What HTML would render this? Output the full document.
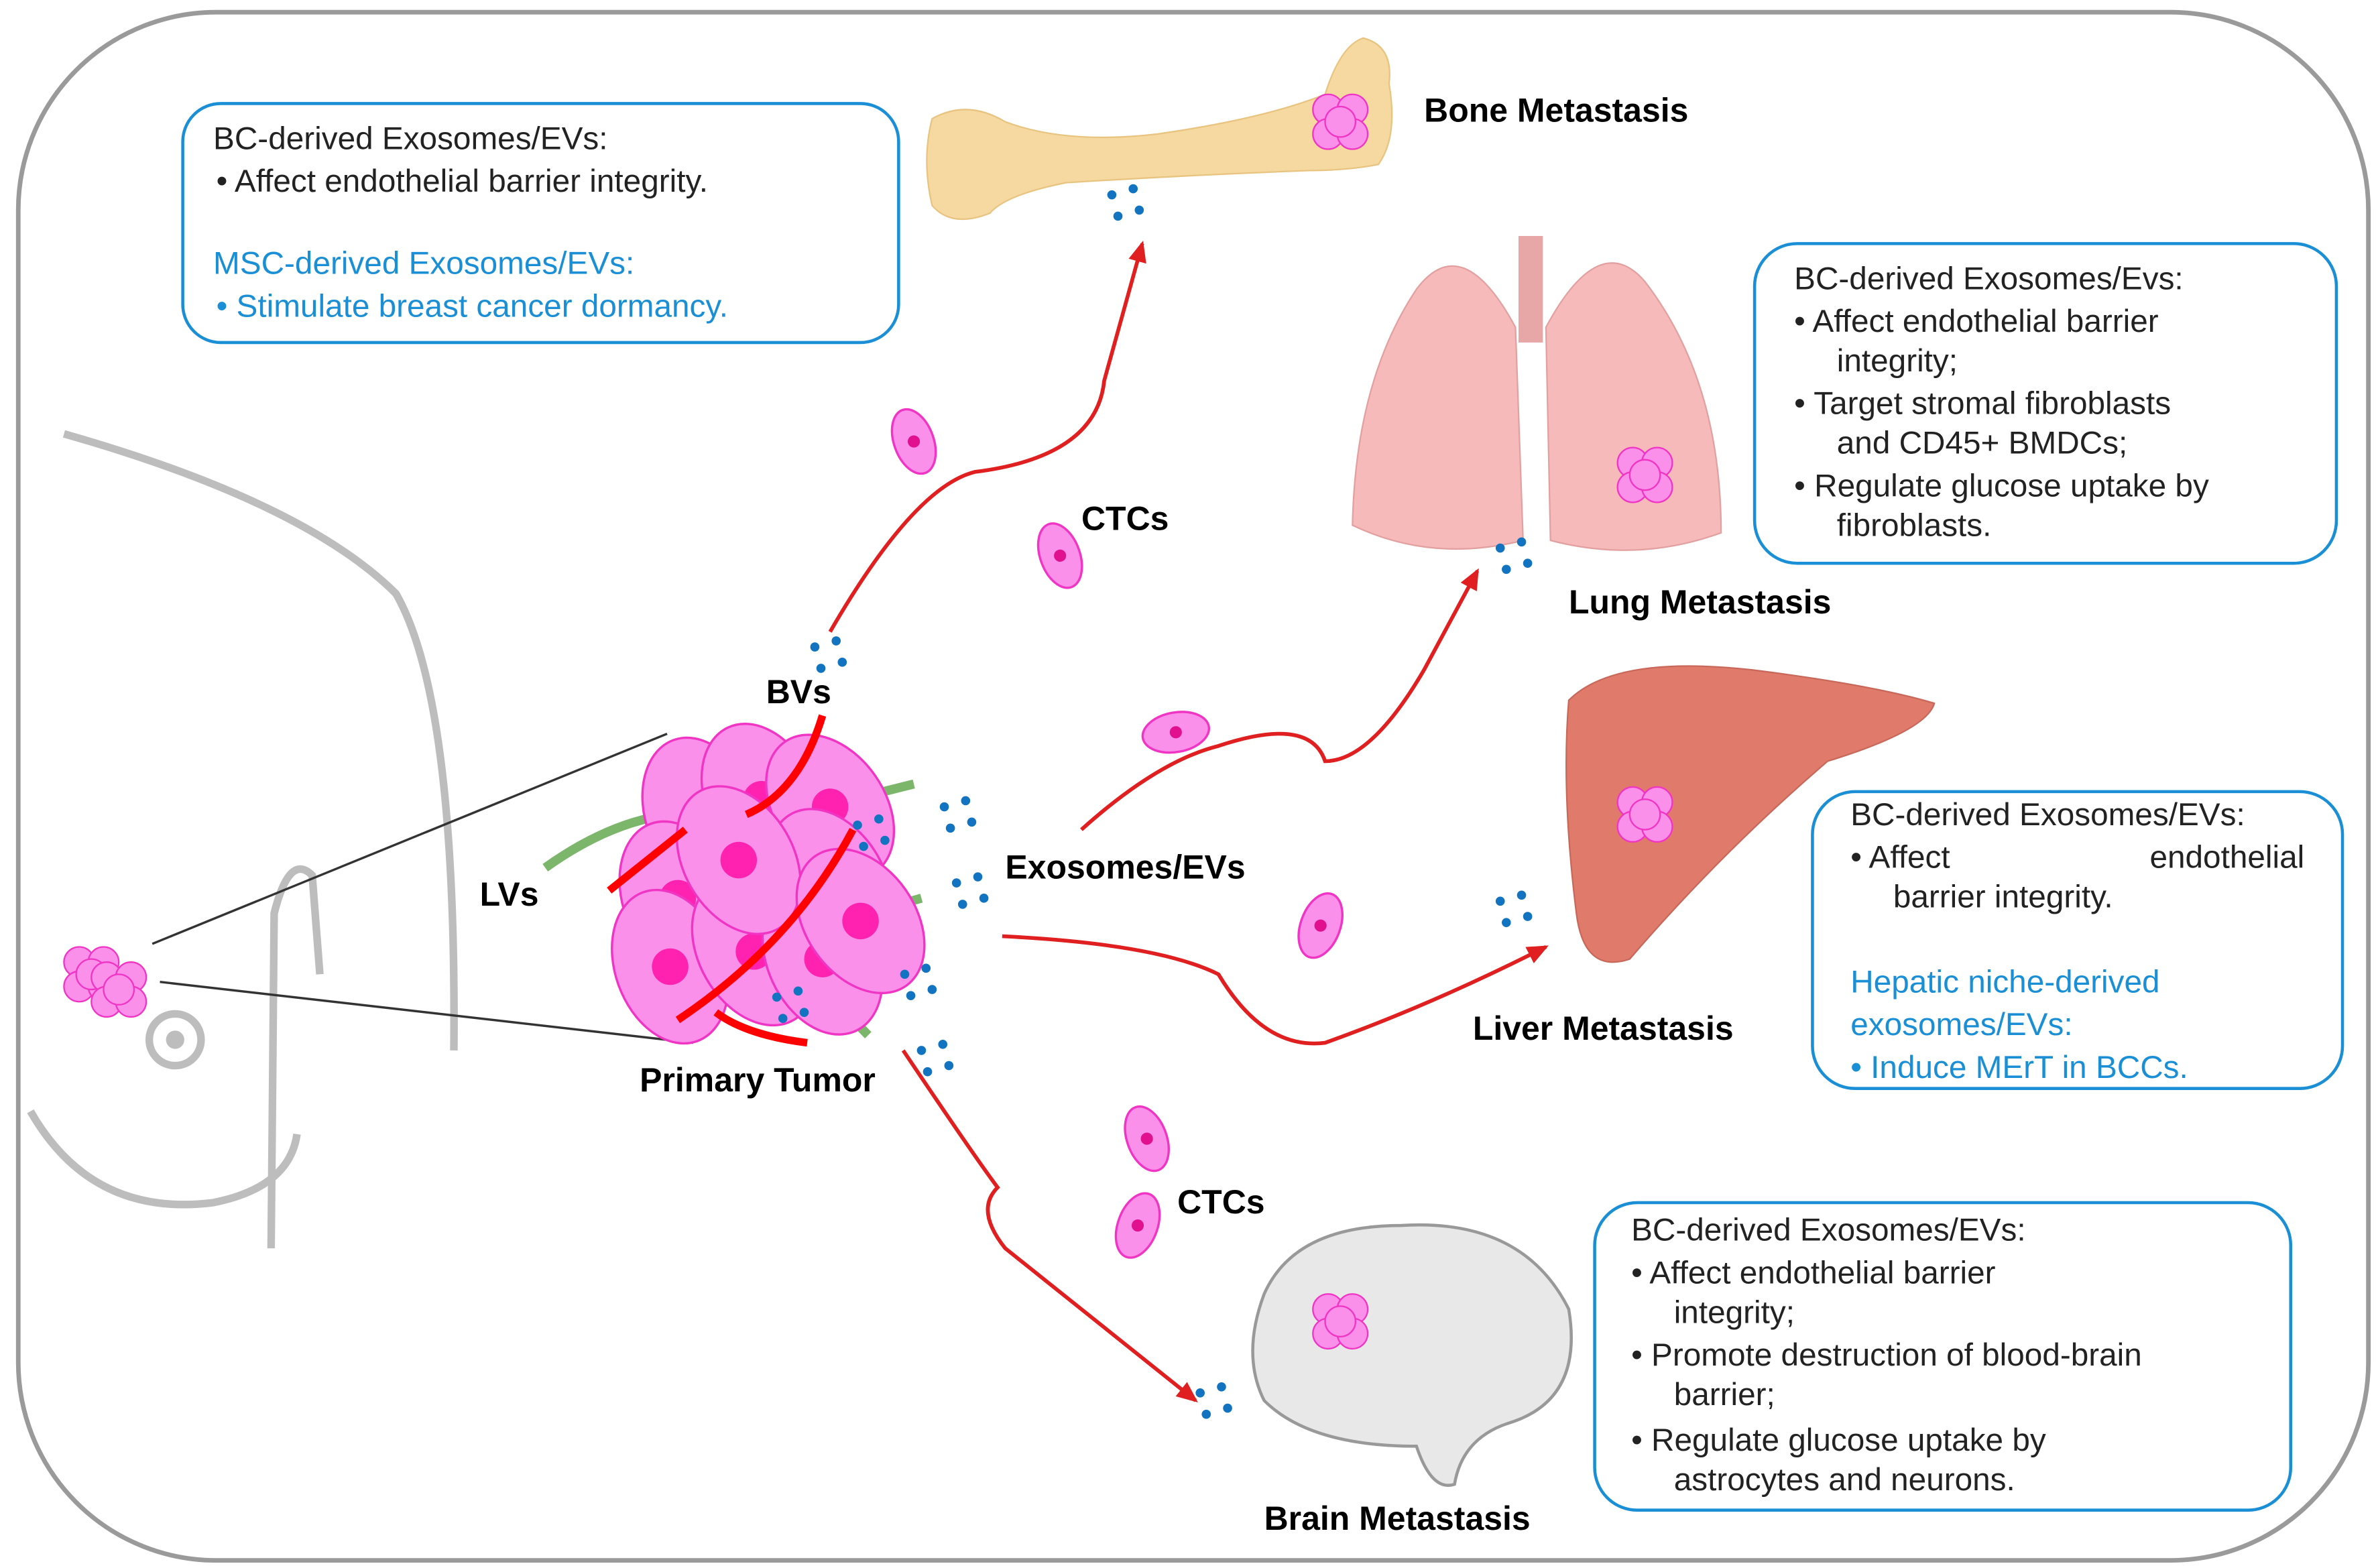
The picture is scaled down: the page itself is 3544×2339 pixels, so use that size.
<!DOCTYPE html>
<html><head><meta charset="utf-8"><style>
html,body{margin:0;padding:0;background:#fff}
svg{display:block}
text{font-family:"Liberation Sans",sans-serif}
.b{font-weight:bold;font-size:22px;fill:#000}
.t{font-size:21px;fill:#222}
.bl{font-size:21px;fill:#1a8fd6}
</style></head><body>
<svg width="3544" height="2339" viewBox="0 0 1560 1030" preserveAspectRatio="none" xmlns="http://www.w3.org/2000/svg">
<defs>
<g id="cell"><ellipse rx="36" ry="52" fill="#fb90ea" stroke="#f035c4" stroke-width="1.5"/><circle r="12" fill="#ff22b0"/></g>
<g id="ctc"><ellipse rx="13" ry="22" fill="#fb90ea" stroke="#f035c4" stroke-width="1.5"/><circle r="4" fill="#e0108f"/></g>
<g id="clu"><circle cx="-8" cy="-8" r="10" fill="#fb90ea" stroke="#f035c4"/><circle cx="8" cy="-8" r="10" fill="#fb90ea" stroke="#f035c4"/><circle cx="-8" cy="8" r="10" fill="#fb90ea" stroke="#f035c4"/><circle cx="8" cy="8" r="10" fill="#fb90ea" stroke="#f035c4"/><circle cx="0" cy="0" r="10" fill="#fb90ea" stroke="#f035c4"/></g>
<g id="dots" fill="#1273c0"><circle cx="0" cy="0" r="3"/><circle cx="14" cy="-4" r="3"/><circle cx="4" cy="14" r="3"/><circle cx="18" cy="10" r="3"/></g>
<marker id="ar" markerUnits="userSpaceOnUse" markerWidth="14" markerHeight="12" refX="12" refY="6" orient="auto"><path d="M0,0 L14,6 L0,12 Z" fill="#e02020"/></marker>
</defs>
<rect x="12" y="8" width="1543" height="1017" rx="130" fill="#fff" stroke="#9a9a9a" stroke-width="3"/>

<g fill="none" stroke="#bdbdbd" stroke-width="5">
<path d="M42,285 Q200,330 260,390 Q300,460 298,690"/>
<path d="M20,730 Q60,800 140,790 Q190,780 195,745"/>
<path d="M178,820 L180,600 Q190,560 205,575 L210,640"/>
<circle cx="115" cy="683" r="17"/>
</g>
<circle cx="115" cy="683" r="6" fill="#bdbdbd"/>
<use href="#clu" x="60" y="640"/><use href="#clu" x="78" y="650"/>
<line x1="100" y1="620" x2="438" y2="482" stroke="#333" stroke-width="1.5"/>
<line x1="105" y1="645" x2="455" y2="685" stroke="#333" stroke-width="1.5"/>

<g stroke="#7cb66b" stroke-width="6" fill="none">
<path d="M358,570 Q400,540 440,535"/><path d="M560,525 L600,515"/><path d="M570,600 L605,590"/><path d="M520,600 Q540,650 570,680"/><path d="M470,500 Q490,520 500,530"/>
</g>
<use href="#cell" transform="translate(460,535) rotate(-20)"/>
<use href="#cell" transform="translate(500,525) rotate(-25)"/>
<use href="#cell" transform="translate(545,530) rotate(-35)"/>
<use href="#cell" transform="translate(445,590) rotate(-20)"/>
<use href="#cell" transform="translate(545,580) rotate(-30)"/>
<use href="#cell" transform="translate(440,635) rotate(-20)"/>
<use href="#cell" transform="translate(495,625) rotate(-30)"/>
<use href="#cell" transform="translate(540,630) rotate(-25)"/>
<use href="#cell" transform="translate(485,565) rotate(-30)"/>
<use href="#cell" transform="translate(565,605) rotate(-35)"/>
<g stroke="#ff0000" stroke-width="5" fill="none">
<path d="M540,470 Q525,520 490,535"/><path d="M400,585 L450,545"/><path d="M445,670 Q520,620 560,545"/><path d="M470,665 Q490,680 530,685"/>
</g>
<use href="#dots" x="563" y="542"/><use href="#dots" x="594" y="640"/><use href="#dots" x="510" y="655"/>
<use href="#dots" x="620" y="530"/><use href="#dots" x="628" y="580"/><use href="#dots" x="605" y="690"/><use href="#dots" x="535" y="425"/>

<g stroke="#e02020" stroke-width="2.5" fill="none" marker-end="url(#ar)">
<path d="M545,415 Q600,320 640,310 Q720,300 725,250 L750,160"/>
<path d="M710,545 Q760,500 800,490 Q860,470 870,500 Q900,500 935,440 L970,375"/>
<path d="M658,615 Q760,620 800,640 Q830,690 870,685 Q940,660 1015,622"/>
<path d="M593,690 Q640,760 655,780 Q640,795 660,820 L785,920"/>
</g>

<use href="#ctc" transform="translate(600,290) rotate(-20)"/>
<use href="#ctc" transform="translate(696,365) rotate(-20)"/>
<use href="#ctc" transform="translate(772,481) rotate(80)"/>
<use href="#ctc" transform="translate(867,608) rotate(20)"/>
<use href="#ctc" transform="translate(753,748) rotate(-20)"/>
<use href="#ctc" transform="translate(747,805) rotate(20)"/>

<path d="M612,78 Q635,65 660,80 Q700,95 760,88 Q830,78 870,62 Q880,30 895,25 Q915,30 912,55 Q918,90 905,108 Q885,112 860,112 Q780,115 700,120 Q660,128 650,140 Q625,150 612,135 Q605,105 612,78 Z" fill="#f5d9a0" stroke="#e8c480"/>
<use href="#clu" x="880" y="80"/>
<use href="#dots" x="730" y="128"/>

<rect x="997" y="155" width="16" height="70" fill="#e8a7a7"/>
<path d="M995,215 Q960,150 930,190 Q890,250 888,345 Q940,370 1000,355 Z" fill="#f6baba" stroke="#e3a0a0"/>
<path d="M1015,215 Q1050,150 1080,185 Q1130,250 1130,350 Q1075,370 1018,355 Z" fill="#f6baba" stroke="#e3a0a0"/>
<use href="#clu" x="1080" y="312"/>
<use href="#dots" x="985" y="360"/>

<path d="M1030,460 Q1060,430 1150,440 Q1230,450 1270,462 Q1265,480 1200,500 Q1130,560 1070,630 Q1040,640 1035,600 Q1025,520 1030,460 Z" fill="#e07b6c" stroke="#c8685a"/>
<use href="#clu" x="1080" y="535"/>
<use href="#dots" x="985" y="592"/>

<path d="M830,850 Q850,805 920,805 Q1000,800 1030,860 Q1040,920 990,935 Q960,945 955,975 Q940,980 930,950 Q860,950 830,920 Q815,890 830,850 Z" fill="#e8e8e8" stroke="#999" stroke-width="2"/>
<use href="#clu" x="880" y="868"/>
<use href="#dots" x="788" y="915"/>

<g fill="#fff" stroke="#1a8fd6" stroke-width="2">
<rect x="120" y="68" width="470" height="157" rx="25"/>
<rect x="1152" y="160" width="382" height="210" rx="28"/>
<rect x="1190" y="520" width="348" height="195" rx="28"/>
<rect x="1047" y="790" width="457" height="202" rx="28"/>
</g>
<text class="t" x="140" y="98">BC-derived Exosomes/EVs:</text>
<text class="t" x="142" y="126">•  Affect endothelial barrier integrity.</text>
<text class="bl" x="140" y="180">MSC-derived Exosomes/EVs:</text>
<text class="bl" x="142" y="208">•  Stimulate breast cancer dormancy.</text>

<text class="t" x="1178" y="190">BC-derived Exosomes/Evs:</text>
<text class="t" x="1178" y="218">•  Affect endothelial barrier</text>
<text class="t" x="1206" y="244">integrity;</text>
<text class="t" x="1178" y="272">•  Target stromal fibroblasts</text>
<text class="t" x="1206" y="298">and CD45+ BMDCs;</text>
<text class="t" x="1178" y="326">•  Regulate glucose uptake by</text>
<text class="t" x="1206" y="352">fibroblasts.</text>

<text class="t" x="1215" y="542">BC-derived  Exosomes/EVs:</text>
<text class="t" x="1215" y="570">•  Affect</text>
<text class="t" x="1513" y="570" text-anchor="end">endothelial</text>
<text class="t" x="1243" y="596">barrier integrity.</text>
<text class="bl" x="1215" y="652">Hepatic niche-derived</text>
<text class="bl" x="1215" y="680">exosomes/EVs:</text>
<text class="bl" x="1215" y="708">•  Induce MErT in BCCs.</text>

<text class="t" x="1071" y="815">BC-derived Exosomes/EVs:</text>
<text class="t" x="1071" y="843">•  Affect endothelial barrier</text>
<text class="t" x="1099" y="869">integrity;</text>
<text class="t" x="1071" y="897">•  Promote destruction of blood-brain</text>
<text class="t" x="1099" y="923">barrier;</text>
<text class="t" x="1071" y="953">•  Regulate glucose uptake by</text>
<text class="t" x="1099" y="979">astrocytes and neurons.</text>

<text class="b" x="935" y="80">Bone Metastasis</text>
<text class="b" x="1030" y="403">Lung Metastasis</text>
<text class="b" x="967" y="683">Liver Metastasis</text>
<text class="b" x="830" y="1005">Brain Metastasis</text>
<text class="b" x="710" y="348">CTCs</text>
<text class="b" x="773" y="797">CTCs</text>
<text class="b" x="503" y="462">BVs</text>
<text class="b" x="315" y="595">LVs</text>
<text class="b" x="660" y="577">Exosomes/EVs</text>
<text class="b" x="420" y="717">Primary Tumor</text>
</svg>
</body></html>
